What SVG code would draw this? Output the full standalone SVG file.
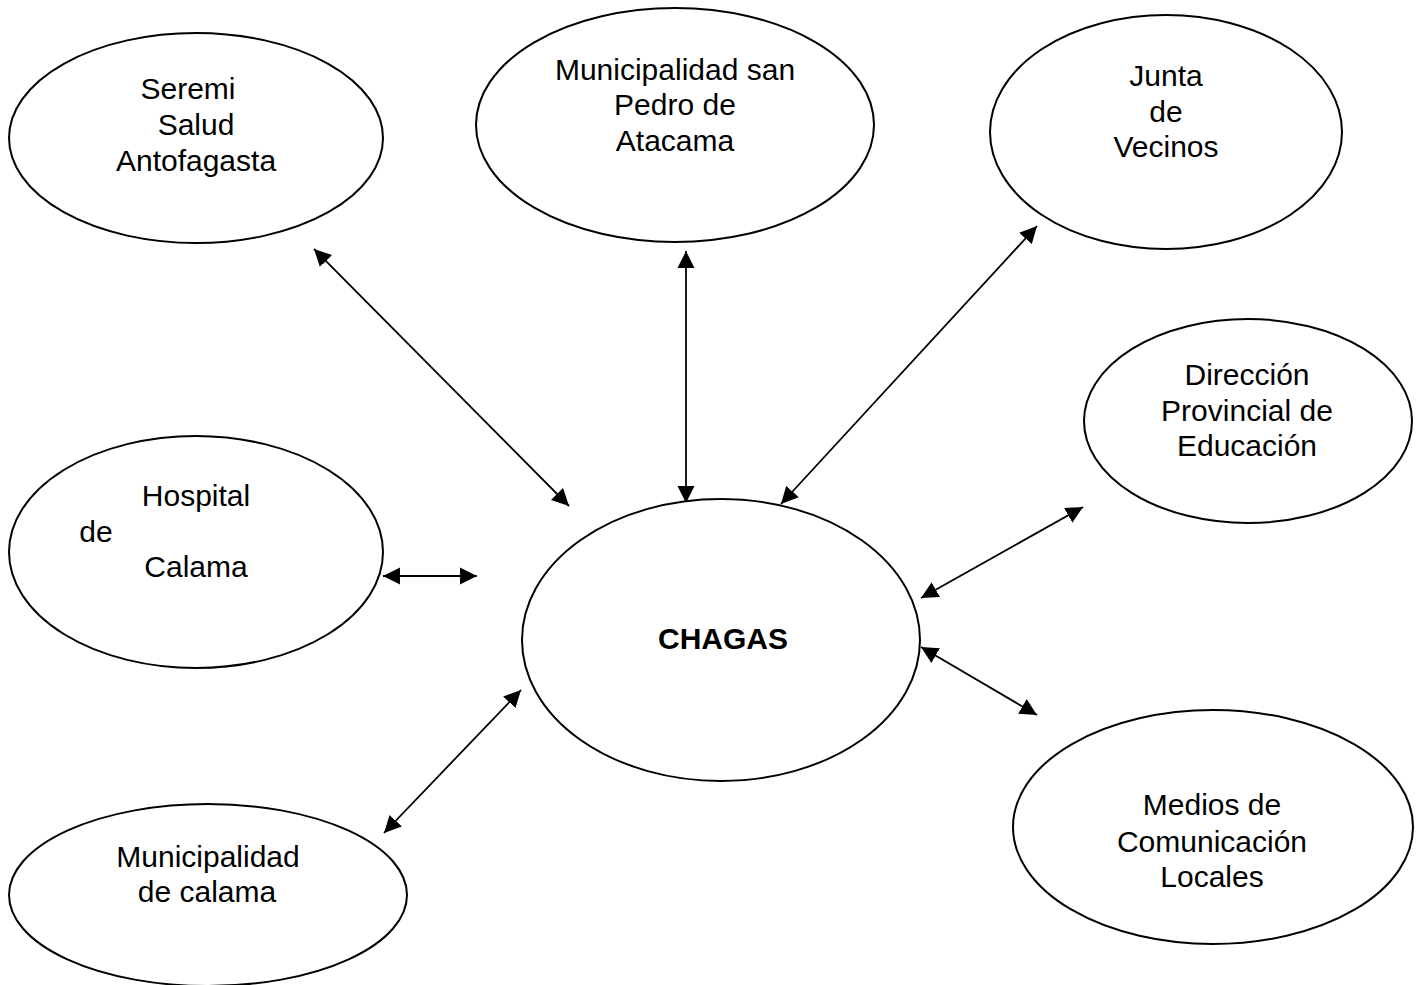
<svg xmlns="http://www.w3.org/2000/svg" width="1422" height="985" viewBox="0 0 1422 985">
<style>
.node ellipse{fill:#fff;stroke:#000;stroke-width:2}
.node text{font-family:"Liberation Sans",Arial,sans-serif;font-size:30px;fill:#000;text-anchor:middle}
.node text.b{font-weight:bold}
.conn line{stroke:#000;stroke-width:1.8;marker-start:url(#ah);marker-end:url(#ah)}
</style>
<defs>
<marker id="ah" markerUnits="userSpaceOnUse" markerWidth="18" markerHeight="18" refX="17" refY="9" orient="auto-start-reverse" viewBox="0 0 18 18">
<path d="M0,0.5 L17,9 L0,17.5 z" fill="#000"/>
</marker>
</defs>
<rect width="1422" height="985" fill="#fff"/>
<g id="connectors" class="conn">
<line x1="314" y1="249" x2="569" y2="506"/>
<line x1="686" y1="251" x2="686" y2="503"/>
<line x1="1037" y1="226" x2="781" y2="504"/>
<line x1="1083" y1="507" x2="921" y2="598"/>
<line x1="921" y1="647" x2="1037" y2="715"/>
<line x1="383" y1="576" x2="477" y2="576"/>
<line x1="384" y1="833" x2="521" y2="690"/>
</g>
<g id="seremi" class="node">
<ellipse cx="196" cy="138" rx="187" ry="105"/>
<text x="188" y="99">Seremi</text>
<text x="196" y="135">Salud</text>
<text x="196" y="171">Antofagasta</text>
</g>
<g id="muni-spa" class="node">
<ellipse cx="675" cy="125" rx="199" ry="117"/>
<text x="675" y="80">Municipalidad san</text>
<text x="675" y="115">Pedro de</text>
<text x="675" y="151">Atacama</text>
</g>
<g id="junta" class="node">
<ellipse cx="1166" cy="132" rx="176" ry="117"/>
<text x="1166" y="86">Junta</text>
<text x="1166" y="122">de</text>
<text x="1166" y="157">Vecinos</text>
</g>
<g id="direccion" class="node">
<ellipse cx="1248" cy="421" rx="164" ry="102"/>
<text x="1247" y="385">Dirección</text>
<text x="1247" y="421">Provincial de</text>
<text x="1247" y="456">Educación</text>
</g>
<g id="hospital" class="node">
<ellipse cx="196" cy="552" rx="187" ry="116"/>
<text x="196" y="506">Hospital</text>
<text x="96" y="542">de</text>
<text x="196" y="577">Calama</text>
</g>
<g id="chagas" class="node">
<ellipse cx="721" cy="640" rx="199" ry="141"/>
<text class="b" x="723" y="649">CHAGAS</text>
</g>
<g id="muni-calama" class="node">
<ellipse cx="208" cy="895" rx="199" ry="91"/>
<text x="208" y="867">Municipalidad</text>
<text x="207" y="902">de calama</text>
</g>
<g id="medios" class="node">
<ellipse cx="1213" cy="827" rx="200" ry="117"/>
<text x="1212" y="815">Medios de</text>
<text x="1212" y="852">Comunicación</text>
<text x="1212" y="887">Locales</text>
</g>
</svg>
